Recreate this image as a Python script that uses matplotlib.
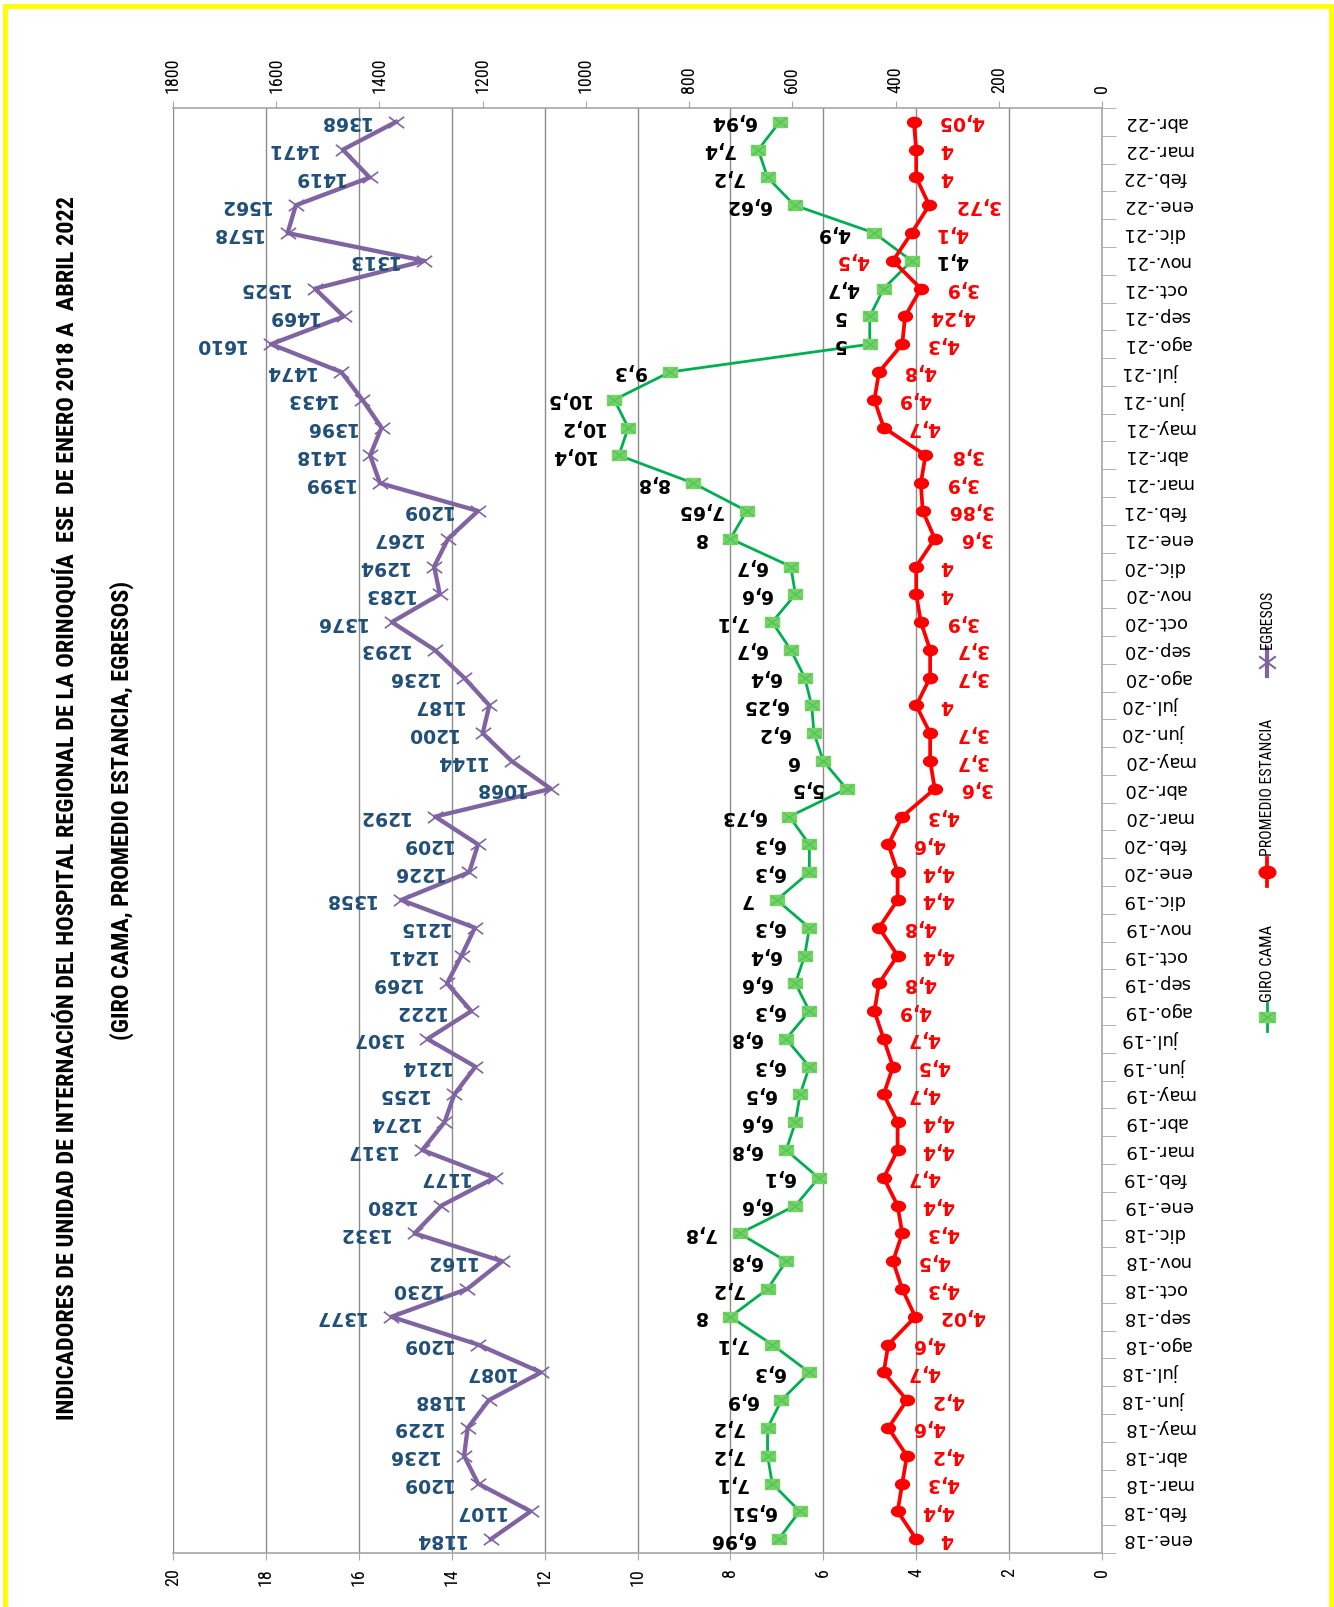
import numpy as np
import matplotlib
matplotlib.use("Agg")
import matplotlib.pyplot as plt
import matplotlib.lines as mlines
from matplotlib import font_manager
from matplotlib.path import Path
from matplotlib.transforms import Affine2D
from matplotlib.patches import Rectangle
from matplotlib.ticker import MultipleLocator

# datos
meses = ['ene.-18', 'feb.-18', 'mar.-18', 'abr.-18', 'may.-18', 'jun.-18', 'jul.-18', 'ago.-18', 'sep.-18', 'oct.-18', 'nov.-18', 'dic.-18',
         'ene.-19', 'feb.-19', 'mar.-19', 'abr.-19', 'may.-19', 'jun.-19', 'jul.-19', 'ago.-19', 'sep.-19', 'oct.-19', 'nov.-19', 'dic.-19',
         'ene.-20', 'feb.-20', 'mar.-20', 'abr.-20', 'may.-20', 'jun.-20', 'jul.-20', 'ago.-20', 'sep.-20', 'oct.-20', 'nov.-20', 'dic.-20',
         'ene.-21', 'feb.-21', 'mar.-21', 'abr.-21', 'may.-21', 'jun.-21', 'jul.-21', 'ago.-21', 'sep.-21', 'oct.-21', 'nov.-21', 'dic.-21',
         'ene.-22', 'feb.-22', 'mar.-22', 'abr.-22']

giro_cama = [6.96, 6.51, 7.1, 7.2, 7.2, 6.9, 6.3, 7.1, 8, 7.2, 6.8, 7.8,
             6.6, 6.1, 6.8, 6.6, 6.5, 6.3, 6.8, 6.3, 6.6, 6.4, 6.3, 7,
             6.3, 6.3, 6.73, 5.5, 6, 6.2, 6.25, 6.4, 6.7, 7.1, 6.6, 6.7,
             8, 7.65, 8.8, 10.4, 10.2, 10.5, 9.3, 5, 5, 4.7, 4.1, 4.9,
             6.62, 7.2, 7.4, 6.94]

promedio_estancia = [4, 4.4, 4.3, 4.2, 4.6, 4.2, 4.7, 4.6, 4.02, 4.3, 4.5, 4.3,
                     4.4, 4.7, 4.4, 4.4, 4.7, 4.5, 4.7, 4.9, 4.8, 4.4, 4.8, 4.4,
                     4.4, 4.6, 4.3, 3.6, 3.7, 3.7, 4, 3.7, 3.7, 3.9, 4, 4,
                     3.6, 3.86, 3.9, 3.8, 4.7, 4.9, 4.8, 4.3, 4.24, 3.9, 4.5, 4.1,
                     3.72, 4, 4, 4.05]

egresos = [1184, 1107, 1209, 1236, 1229, 1188, 1087, 1209, 1377, 1230, 1162, 1332,
           1280, 1177, 1317, 1274, 1255, 1214, 1307, 1222, 1269, 1241, 1215, 1358,
           1226, 1209, 1292, 1068, 1144, 1200, 1187, 1236, 1293, 1376, 1283, 1294,
           1267, 1209, 1399, 1418, 1396, 1433, 1474, 1610, 1469, 1525, 1313, 1578,
           1562, 1419, 1471, 1368]

titulo1 = 'INDICADORES DE UNIDAD DE INTERNACIÓN DEL HOSPITAL REGIONAL DE LA ORINOQUÍA  ESE  DE ENERO 2018 A  ABRIL 2022'
titulo2 = '(GIRO CAMA, PROMEDIO ESTANCIA, EGRESOS)'

W, H = 1334, 1607
VERDE = '#00B050'
VERDE_CLARO = '#77D164'
ROJO = '#FF0000'
MORADO = '#8064A2'
AZUL = '#1F4E79'


def primera_fuente(cands):
    for c in cands:
        try:
            font_manager.findfont(c, fallback_to_default=False)
            return c
        except ValueError:
            pass
    return 'DejaVu Sans'


ANGOSTA = primera_fuente(['Liberation Sans Narrow', 'Arial Narrow', 'Roboto Condensed',
                          'Open Sans Condensed', 'DejaVu Sans Condensed', 'Liberation Sans'])
NARROW = [ANGOSTA, 'DejaVu Sans']


def fx(x):
    return x / W


def fy(y):
    return 1 - y / H


def fmt(v):
    return f"{v:g}".replace('.', ',')


# marcadores "estirados" como en la imagen
elipse = Path.unit_circle().transformed(Affine2D().scale(1.35, 1.0))
rect = Path([(-1.5, -1), (1.5, -1), (1.5, 1), (-1.5, 1), (-1.5, -1)],
            [Path.MOVETO, Path.LINETO, Path.LINETO, Path.LINETO, Path.CLOSEPOLY])
cruz = Path([(-1.35, -1), (1.35, 1), (-1.35, 1), (1.35, -1)],
            [Path.MOVETO, Path.LINETO, Path.MOVETO, Path.LINETO])

fig = plt.figure(figsize=(W / 100, H / 100), dpi=100)
ax = fig.add_axes([fx(173), fy(1553), fx(1102) - fx(173), fy(108) - fy(1553)])
ax2 = ax.twiny()

y = np.arange(len(meses))

# eje principal (giro cama, promedio estancia)
ax.set_xlim(20, 0)
ax.set_ylim(-0.5, len(meses) - 0.5)
ax.xaxis.set_major_locator(MultipleLocator(2))
ax.grid(axis='x', color='#8C8C8C', lw=1)
ax.set_axisbelow(True)
ax.tick_params(axis='x', direction='out', length=5, color='#A6A6A6', pad=6,
               labelrotation=90, labelsize=13)
for lbl in ax.get_xticklabels():
    lbl.set_family(NARROW)

ax.yaxis.tick_right()
ax.set_yticks(y)
ax.set_yticklabels(meses)
ax.set_yticks(np.arange(-0.5, len(meses)), minor=True)
ax.tick_params(axis='y', which='major', length=0, pad=15, labelrotation=180, labelsize=13)
ax.tick_params(axis='y', which='minor', length=10, color='#A6A6A6', direction='out')
for lbl in ax.get_yticklabels():
    lbl.set_va('center')
    lbl.set_ha('left')

for s in ['left', 'top']:
    ax.spines[s].set_visible(False)
for s in ['right', 'bottom']:
    ax.spines[s].set_color('#A6A6A6')
    ax.spines[s].set_linewidth(1.2)

ax.plot(giro_cama, y, color=VERDE, lw=2, zorder=3)
ax.plot(giro_cama, y, ls='none', marker=rect, ms=10, mfc=VERDE_CLARO, mec=VERDE_CLARO, zorder=4)
ax.plot(giro_cama, y, ls='none', marker=cruz, ms=9, mfc='none', mec='#4CC85C', mew=1, zorder=5)
ax.plot(promedio_estancia, y, color=ROJO, lw=2.7, marker=elipse, ms=10, mfc=ROJO, mec=ROJO, zorder=6)

# eje secundario (egresos)
ax2.set_xlim(1800, 0)
ax2.xaxis.set_major_locator(MultipleLocator(200))
ax2.tick_params(axis='x', direction='out', length=5, color='#A6A6A6', pad=6,
                labelrotation=90, labelsize=13)
for lbl in ax2.get_xticklabels():
    lbl.set_family(NARROW)
for s in ['left', 'right', 'bottom']:
    ax2.spines[s].set_visible(False)
ax2.spines['top'].set_color('#A6A6A6')
ax2.spines['top'].set_linewidth(1.2)
ax2.plot(egresos, y, color=MORADO, lw=3.1, marker=cruz, ms=11, mfc='none', mec=MORADO, mew=1.2, zorder=3)

# etiquetas de datos
lado_cambiado = {46}
for i in range(len(meses)):
    g_off, g_ha = (-24, 'right') if i not in lado_cambiado else (24, 'left')
    p_off, p_ha = (24, 'left') if i not in lado_cambiado else (-24, 'right')
    ax.annotate(fmt(giro_cama[i]), (giro_cama[i], y[i]), xytext=(g_off, 0), textcoords='offset pixels',
                ha=g_ha, va='center', rotation=180, fontsize=13.5, fontweight='bold', color='black', zorder=8)
    ax.annotate(fmt(promedio_estancia[i]), (promedio_estancia[i], y[i]), xytext=(p_off, 0), textcoords='offset pixels',
                ha=p_ha, va='center', rotation=180, fontsize=13.5, fontweight='bold', color=ROJO, zorder=8)
    ax2.annotate(fmt(egresos[i]), (egresos[i], y[i]), xytext=(-26, 0), textcoords='offset pixels',
                 ha='right', va='center', rotation=180, fontsize=13.5, fontweight='bold', color=AZUL, zorder=8)

# titulo
t1 = fig.text(fx(66), fy(808), titulo1, rotation=90, ha='center', va='center',
              fontsize=18, fontweight='bold', family=NARROW)
t2 = fig.text(fx(122), fy(810), titulo2, rotation=90, ha='center', va='center',
              fontsize=18, fontweight='bold', family=NARROW)

# leyenda (rotada)
leyenda = [('GIRO CAMA', 1017, 1002), ('PROMEDIO ESTANCIA', 872, 856), ('EGRESOS', 662, 649)]
largos_leyenda = {'GIRO CAMA': 77, 'PROMEDIO ESTANCIA': 136, 'EGRESOS': 59}
xl = fx(1267)
textos_leyenda = []
for nombre, ym, yt in leyenda:
    if nombre == 'GIRO CAMA':
        fig.add_artist(mlines.Line2D([xl, xl], [fy(ym + 14), fy(ym - 14)], color=VERDE, lw=2, transform=fig.transFigure))
        fig.add_artist(mlines.Line2D([xl], [fy(ym)], ls='none', marker=rect, ms=11, mfc=VERDE_CLARO,
                                     mec=VERDE_CLARO, transform=fig.transFigure))
        fig.add_artist(mlines.Line2D([xl], [fy(ym)], ls='none', marker=cruz, ms=10, mfc='none',
                                     mec='#4CC85C', transform=fig.transFigure))
    elif nombre == 'PROMEDIO ESTANCIA':
        fig.add_artist(mlines.Line2D([xl, xl], [fy(ym + 14), fy(ym - 14)], color=ROJO, lw=2.7, transform=fig.transFigure))
        fig.add_artist(mlines.Line2D([xl], [fy(ym)], ls='none', marker=elipse, ms=12, mfc=ROJO,
                                     mec=ROJO, transform=fig.transFigure))
    else:
        fig.add_artist(mlines.Line2D([xl, xl], [fy(ym + 14), fy(ym - 14)], color=MORADO, lw=3, transform=fig.transFigure))
        fig.add_artist(mlines.Line2D([xl], [fy(ym)], ls='none', marker=cruz, ms=12, mfc='none',
                                     mec=MORADO, mew=1.5, transform=fig.transFigure))
    t = fig.text(xl, fy(yt), nombre, rotation=90, ha='center', va='bottom', fontsize=11, family=NARROW)
    textos_leyenda.append((t, largos_leyenda[nombre]))

# ajustar los textos rotados al largo que tienen en la imagen
fig.canvas.draw()
rend = fig.canvas.get_renderer()
for t, largo in [(t1, 1223), (t2, 461)] + textos_leyenda:
    alto = t.get_window_extent(rend).height
    t.set_fontsize(t.get_fontsize() * largo / alto)

# marco amarillo
fig.add_artist(Rectangle((fx(5), -0.05), fx(1331) - fx(5), fy(6.5) + 0.05, fill=False,
                         edgecolor='#FFFF00', lw=3.5, transform=fig.transFigure))

fig.savefig('out.png', dpi=100)
